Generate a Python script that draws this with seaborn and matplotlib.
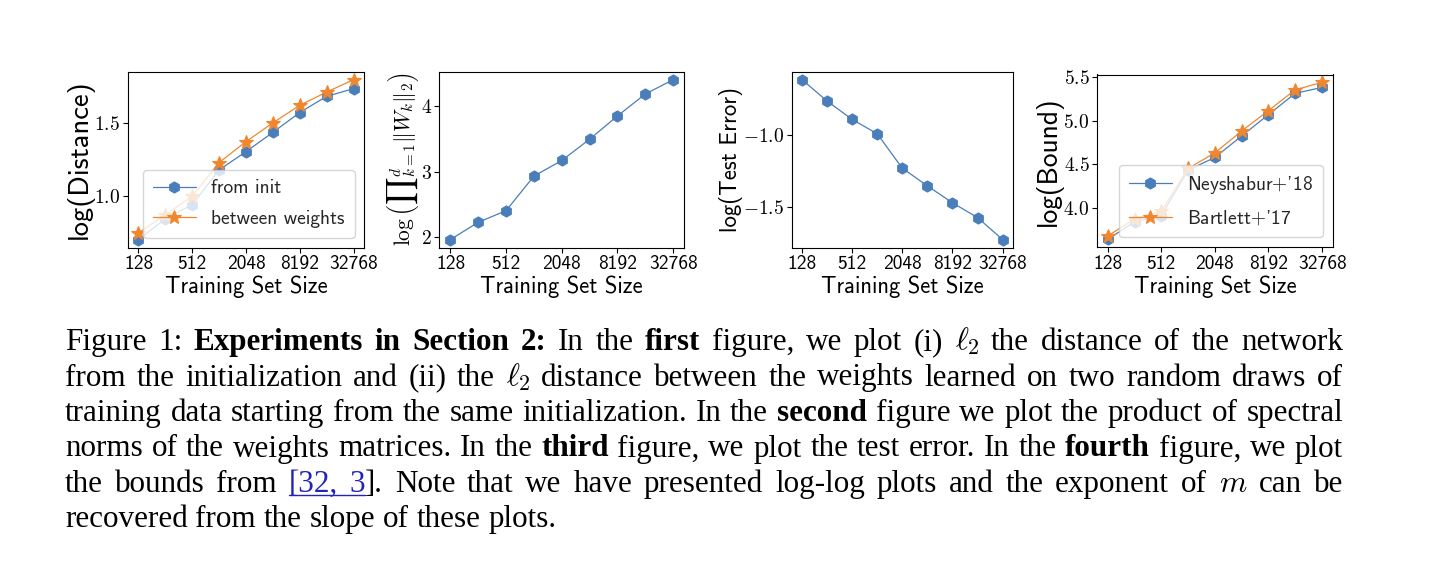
import matplotlib
matplotlib.use("Agg")
import matplotlib.pyplot as plt
import seaborn as sns
from matplotlib.ticker import FuncFormatter, NullLocator
from matplotlib.lines import Line2D

# ---------------- data ----------------
train_sizes = [128, 256, 512, 1024, 2048, 4096, 8192, 16384, 32768]
xtick_values = [128, 512, 2048, 8192, 32768]
xtick_labels = ["128", "512", "2048", "8192", "32768"]

dist_from_init = [0.707, 0.847, 0.944, 1.180, 1.304, 1.435, 1.570, 1.680, 1.732]
dist_between = [0.752, 0.876, 1.000, 1.230, 1.372, 1.500, 1.619, 1.709, 1.793]
spectral_prod = [1.960, 2.224, 2.402, 2.931, 3.170, 3.496, 3.852, 4.188, 4.407]
test_error = [-0.616, -0.765, -0.893, -0.993, -1.233, -1.356, -1.474, -1.577, -1.730]
bound_neyshabur = [3.639, 3.840, 3.913, 4.435, 4.580, 4.827, 5.073, 5.317, 5.385]
bound_bartlett = [3.677, 3.875, 3.962, 4.454, 4.633, 4.884, 5.119, 5.358, 5.443]

yticks_1 = [1.0, 1.5]
yticks_2 = [2, 3, 4]
yticks_3 = [-1.5, -1.0]
yticks_4 = [4.0, 4.5, 5.0, 5.5]

label_x = "Training Set Size"
label_y1 = "log(Distance)"
label_y2 = r"$\log\left({\prod}_{k=1}^{d}\Vert W_k\Vert_2\right)$"
label_y3 = "log(Test Error)"
label_y4 = "log(Bound)"
legend_1 = ["from init", "between weights"]
legend_4 = ["Neyshabur$+$'18", "Bartlett$+$'17"]

caption_lines = [
    [("Figure 1: ", "r"), ("Experiments in Section 2:", "b"),
     (" In the ", "r"), ("first", "b"),
     (r" figure, we plot (i) $\ell_2$ the distance of the network", "r")],
    [(r"from the initialization and (ii) the $\ell_2$ distance between the weights learned on two random draws of", "r")],
    [("training data starting from the same initialization. In the ", "r"), ("second", "b"),
     (" figure we plot the product of spectral", "r")],
    [("norms of the weights matrices. In the ", "r"), ("third", "b"),
     (" figure, we plot the test error. In the ", "r"), ("fourth", "b"),
     (" figure, we plot", "r")],
    [("the bounds from ", "r"), ("[32, 3", "link"),
     (r"]. Note that we have presented log-log plots and the exponent of $m$ can be", "r")],
    [("recovered from the slope of these plots.", "r")],
]

# ---------------- style ----------------
sns.set_style("ticks")
plt.rcParams.update({
    "font.family": ["cmss10", "DejaVu Sans"],
    "mathtext.fontset": "cm",
    "axes.unicode_minus": True,
    "axes.edgecolor": "black",
    "axes.linewidth": 0.8,
    "xtick.color": "black",
    "ytick.color": "black",
    "xtick.major.size": 3.5,
    "ytick.major.size": 3.5,
    "xtick.major.width": 0.8,
    "ytick.major.width": 0.8,
    "xtick.labelsize": 14,
    "ytick.labelsize": 14,
    "axes.labelsize": 16.3,
    "axes.labelcolor": "black",
})

BLUE = "#4a7ebb"
ORANGE = "#f0872f"

W, H = 1432, 574
fig = plt.figure(figsize=(W / 100, H / 100), dpi=100)


def add_ax(l, r, t, b):
    return fig.add_axes([l / W, 1 - b / H, (r - l) / W, (b - t) / H])


axes = [
    add_ax(127.7, 364.3, 71.7, 247.5),
    add_ax(439.3, 684.3, 71.7, 247.5),
    add_ax(792.0, 1012.6, 71.7, 247.5),
    add_ax(1097.0, 1332.8, 74.5, 247.2),
]

for ax in axes:
    ax.set_xscale("log", base=2)


def draw(ax, y, color, marker, ms, label=None):
    sns.lineplot(x=train_sizes, y=y, ax=ax, color=color, marker=marker,
                 markersize=ms, markeredgecolor=color, markeredgewidth=0.8,
                 linewidth=0.9, label=label, legend=False)


draw(axes[0], dist_from_init, BLUE, "h", 8, legend_1[0])
draw(axes[0], dist_between, ORANGE, "*", 10.5, legend_1[1])
draw(axes[1], spectral_prod, BLUE, "h", 8)
draw(axes[2], test_error, BLUE, "h", 8)
draw(axes[3], bound_neyshabur, BLUE, "h", 8, legend_4[0])
draw(axes[3], bound_bartlett, ORANGE, "*", 10.5, legend_4[1])

ylabels = [label_y1, label_y2, label_y3, label_y4]
ylabel_sizes = [20.5, 15.5, 16.5, 19.8]
ylabel_pads = [0, 0, 0, 0]
yticks = [yticks_1, yticks_2, yticks_3, yticks_4]
yfmt = ["{:.1f}", "{:.0f}", "{:.1f}", "{:.1f}"]
for ax, yl, ys, yp, yt, fm in zip(axes, ylabels, ylabel_sizes, ylabel_pads, yticks, yfmt):
    ax.set_xticks(xtick_values)
    ax.set_xticklabels(xtick_labels)
    ax.xaxis.set_minor_locator(NullLocator())
    ax.set_yticks(yt)
    ax.yaxis.set_major_formatter(FuncFormatter(lambda v, p, fm=fm: "$" + fm.format(v) + "$"))
    ax.set_xlabel(label_x, labelpad=2)
    ax.set_ylabel(yl, labelpad=yp, fontsize=ys)
    ax.tick_params(axis="both", pad=2)
    for s in ax.spines.values():
        s.set_visible(True)
        s.set_linewidth(0.8)
        s.set_color("black")

for ax in (axes[0], axes[3]):
    ax.legend(loc="lower right", frameon=True, fontsize=14, framealpha=0.8,
              edgecolor="0.8", fancybox=True, numpoints=1, handlelength=2.2,
              borderpad=0.5, labelspacing=0.65)

# ---------------- caption (justified) ----------------
renderer = fig.canvas.get_renderer()
x_left, x_right = 65.0, 1343.0
baselines = [350.0, 385.5, 421.0, 456.5, 491.8, 527.0]
cap_size = 22.4
LINK = "#2323b8"


def tokenize(segments):
    words = [[]]
    for txt, st in segments:
        parts = txt.split(" ")
        for i, p in enumerate(parts):
            if i > 0:
                words.append([])
            if p:
                words[-1].append((p, st))
    return [w for w in words if w]


def make_text(piece, st, y):
    kw = dict(fontsize=cap_size, family=["Liberation Serif", "DejaVu Serif"],
              va="baseline", ha="left", color="black")
    if st == "b":
        kw["fontweight"] = "bold"
    if st == "link":
        kw["color"] = LINK
    return fig.text(0, 1 - y / H, piece, **kw)


space_ref = fig.text(0, 0, "a a", fontsize=cap_size, family="Liberation Serif")
aa = fig.text(0, 0, "aa", fontsize=cap_size, family="Liberation Serif")
space_w = space_ref.get_window_extent(renderer).width - aa.get_window_extent(renderer).width
space_ref.remove()
aa.remove()

for li, (segs, yb) in enumerate(zip(caption_lines, baselines)):
    words = tokenize(segs)
    word_items = []
    for w in words:
        items = []
        for piece, st in w:
            t = make_text(piece, st, yb)
            wd = t.get_window_extent(renderer).width
            items.append((t, wd, st))
        word_items.append(items)
    widths = [sum(i[1] for i in it) for it in word_items]
    last = li == len(caption_lines) - 1
    if last or len(words) < 2:
        gap = space_w
    else:
        gap = (x_right - x_left - sum(widths)) / (len(words) - 1)
    x = x_left
    link_x0, link_x1 = None, None
    for it, wsum in zip(word_items, widths):
        for t, wd, st in it:
            t.set_x(x / W)
            if st == "link":
                if link_x0 is None:
                    link_x0 = x
                link_x1 = x + wd
            x += wd
        x += gap
    if link_x0 is not None:
        yl = 1 - (yb + 3.5) / H
        fig.add_artist(Line2D([link_x0 / W, link_x1 / W], [yl, yl],
                              color=LINK, linewidth=1.0, transform=fig.transFigure))

fig.savefig("out.png", dpi=100, facecolor="white")
